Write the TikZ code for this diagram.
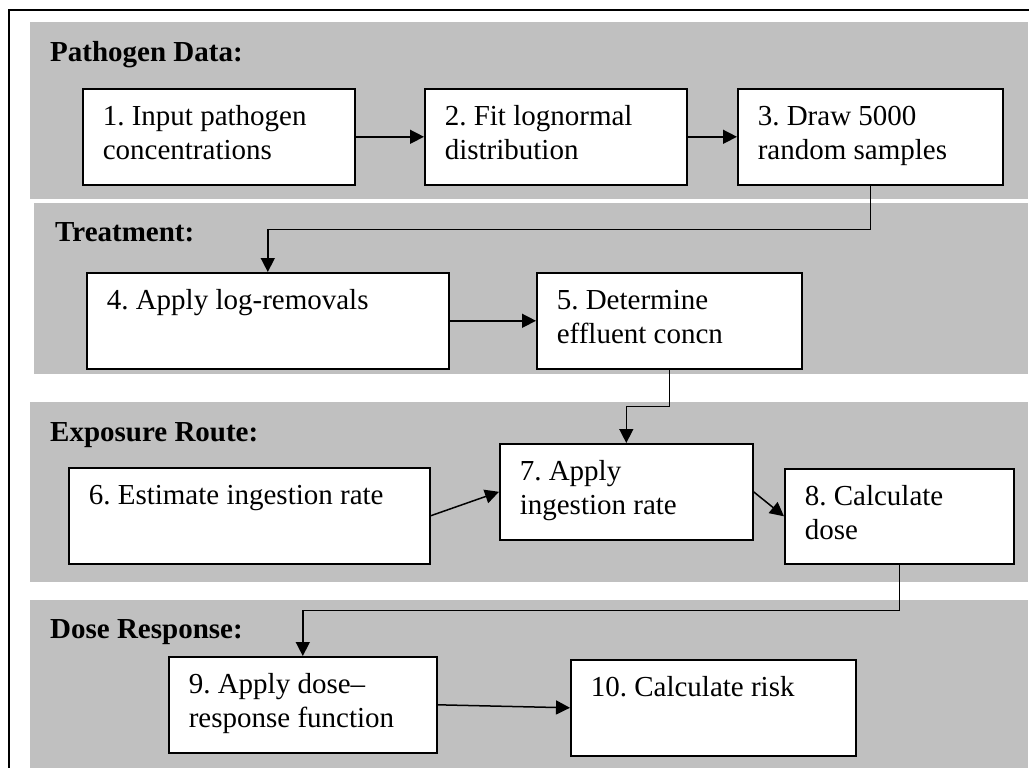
\documentclass[tikz,border=0pt]{standalone}
\usepackage{fontspec}
\setmainfont{Liberation Serif}
\usetikzlibrary{arrows.meta}

\definecolor{bandgray}{RGB}{192,192,192}
\newcommand{\stepbody}[3]{\parbox[c][#2][t]{#1}{\raggedright\frenchspacing\strut #3}}

\begin{document}
\begin{tikzpicture}[x=1pt,y=-1pt,>={Triangle[length=14pt,width=14pt]},
    stepbox/.style={rectangle,draw,fill=white,line width=1.6pt,anchor=north west,
      inner xsep=20pt,inner ysep=13pt,font=\fontsize{29}{34}\selectfont},
    bandtitle/.style={anchor=base west,inner sep=0pt,
      font=\fontsize{29}{34}\selectfont\bfseries},
    link/.style={line width=1.5pt}]
  \useasboundingbox (0,0) rectangle (1029,768);
  \clip (0,0) rectangle (1029,768);

  \draw[line width=1.8pt] (9,790) -- (9,10) -- (1050,10);
  \fill[bandgray] (30,22) rectangle (1028,199);
  \fill[bandgray] (34,203) rectangle (1028,374);
  \fill[bandgray] (30,402) rectangle (1028,582);
  \fill[bandgray] (30,600) rectangle (1028,790);

  \node[bandtitle] (tpath) at (50,62) {Pathogen Data:};
  \node[bandtitle] (ttreat) at (55,241) {Treatment:};
  \node[bandtitle] (texpo) at (50,441) {Exposure Route:};
  \node[bandtitle] (tdose) at (50,638) {Dose Response:};

  \node[stepbox] (b1) at (82,88) {\stepbody{232pt}{70pt}{1. Input pathogen\\concentrations}};
  \node[stepbox] (b2) at (424,88) {\stepbody{222pt}{70pt}{2. Fit lognormal\\distribution}};
  \node[stepbox] (b3) at (737,88) {\stepbody{225pt}{70pt}{3. Draw 5000\\random samples}};
  \node[stepbox] (b4) at (86,272) {\stepbody{322pt}{70pt}{4. Apply log-removals}};
  \node[stepbox] (b5) at (536,272) {\stepbody{225pt}{70pt}{5. Determine\\effluent concn}};
  \node[stepbox] (b6) at (68,467) {\stepbody{321pt}{70pt}{6. Estimate ingestion rate}};
  \node[stepbox] (b7) at (499,443) {\stepbody{213pt}{70pt}{7. Apply\\ingestion rate}};
  \node[stepbox] (b8) at (784,468) {\stepbody{189pt}{69pt}{8. Calculate\\dose}};
  \node[stepbox] (b9) at (168,656) {\stepbody{228pt}{70pt}{9. Apply dose–\\response function}};
  \node[stepbox] (b10) at (570,659) {\stepbody{245pt}{70pt}{10. Calculate risk}};

  \draw[->,link] (b1) -- (b2);
  \draw[->,link] (b2) -- (b3);
  \draw[->,link] (b4) -- (b5);
  \draw[->,link] (b6.east) -- (b7.west);
  \draw[->,link] (b7.east) -- (b8.west);
  \draw[->,link] (b9.east) -- (b10.west);
  \draw[->,link] (b3.south) -- ++(0,44) -| (b4.north);
  \draw[->,link] (b5.south) -- ++(0,37) -| (b7.north);
  \draw[->,link] (b8.south) -- ++(0,46) -| (b9.north);
\end{tikzpicture}
\end{document}
